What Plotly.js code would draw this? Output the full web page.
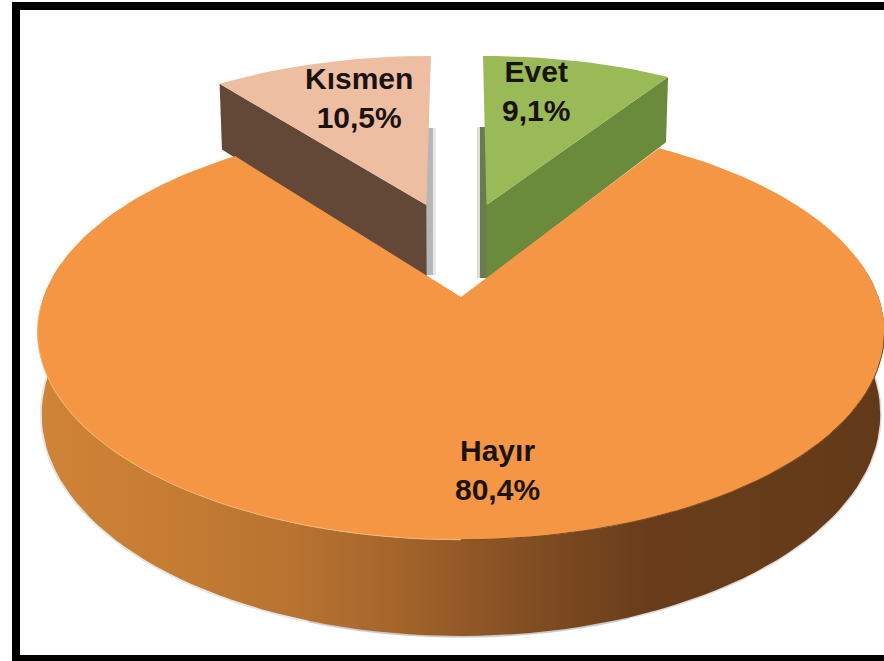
<!DOCTYPE html>
<html><head><meta charset="utf-8">
<script src="https://cdn.plot.ly/plotly-3.0.1.min.js"></script>
<style>html,body{margin:0;padding:0;background:#fff;overflow:hidden}</style>
</head><body><div id="chart" style="width:884px;height:661px"></div>
<script>
const categories = ['Evet', 'Hayır', 'Kısmen'];
const shares = [9.1, 80.4, 10.5];

// Perspective view of the pie disc
const view = {cx: 461, a: 297, b: -152.1, c: 0.168, A: 417.5, depth: 80, shrink: 0.99};
const explode = [[0.066, 0.493], [0, 0], [-0.09, 0.493]];
const topColors = ['#99BA57', '#F49644', '#EDBEA2'];
const sideColors = ['#6A8A3C', null, '#634838'];
const labelPos = [[536, 91], [497.5, 470], [359, 98]];
const total = shares.reduce((s, v) => s + v, 0);

function proj(u, v, low) {
  const den = 1 + view.c * v;
  const s = low ? view.shrink : 1;
  return [view.cx + s * view.A * u / den,
          (view.a + view.b * v) / den + (low ? view.depth / den : 0)];
}
function arc(t0, t1, off, low) {
  const n = Math.max(4, Math.round(Math.abs(t1 - t0) / 2)), pts = [];
  for (let i = 0; i <= n; i++) {
    const t = (t0 + (t1 - t0) * i / n) * Math.PI / 180;
    pts.push(proj(off[0] + Math.sin(t), off[1] + Math.cos(t), low));
  }
  return pts;
}
function poly(pts, color, extra) {
  return Object.assign({x: pts.map(p => p[0]), y: pts.map(p => p[1]), mode: 'lines',
    type: 'scatter', fill: 'toself', fillcolor: color, line: {width: 0, color: color},
    hoverinfo: 'skip', showlegend: false}, extra || {});
}
function stroke(pts, color, width) {
  return {x: pts.map(p => p[0]), y: pts.map(p => p[1]), mode: 'lines', type: 'scatter',
    line: {color: color, width: width}, hoverinfo: 'skip', showlegend: false};
}

let cum = 0;
const spans = shares.map(v => { const s = [cum, cum + v / total * 360]; cum = s[1]; return s; });
const traces = [];

// exploded slices first: they sit behind the big slice
[0, 2].forEach(i => {
  const off = explode[i], [t0, t1] = spans[i];
  const outerAngle = i === 0 ? t1 : t0;
  const apex = proj(off[0], off[1], false), apexLow = proj(off[0], off[1], true);
  const t = outerAngle * Math.PI / 180;
  const rim = proj(off[0] + Math.sin(t), off[1] + Math.cos(t), false);
  const rimLow = proj(off[0] + Math.sin(t), off[1] + Math.cos(t), true);
  traces.push(poly([rim, apex, apexLow, rimLow], sideColors[i]));
  traces.push(poly([apex].concat(arc(t0, t1, off, false)), topColors[i]));
});

// big slice
const big = spans[1], off = explode[1];
const lowArc = arc(80, 280, off, true);
traces.push(stroke(lowArc.slice(0, 60), 'rgba(120,90,60,0.22)', 3));
traces.push(stroke(lowArc.slice(40), 'rgba(130,140,150,0.22)', 4));
traces.push(poly(arc(80, 280, off, false).concat(lowArc.slice().reverse()), '#B0702F', {
  fillgradient: {type: 'horizontal', colorscale: [
    [0, '#CF8436'], [0.15, '#C67C33'], [0.3, '#B87331'], [0.42, '#A5652B'],
    [0.52, '#8F5626'], [0.62, '#7A4820'], [0.72, '#693D1B'], [1, '#633A19']]}
}));
traces.push(poly([proj(off[0], off[1], false)].concat(arc(big[0], big[1], off, false)), topColors[1]));
traces.push(stroke(arc(180, 268, off, false), '#F8B676', 1));
traces.push(stroke(arc(100, 180, off, false), '#7A4A20', 1));

const annotations = categories.map((c, i) => ({
  x: labelPos[i][0], y: labelPos[i][1], xref: 'x', yref: 'y', showarrow: false,
  text: '<b>' + c + '<br>' + String(shares[i]).replace('.', ',') + '%</b>',
  font: {family: 'Liberation Sans, Arial, sans-serif', size: 30, color: '#1A1210'},
  align: 'center', xanchor: 'center', yanchor: 'middle'
}));

const bar = (x0, y0, x1, y1) => ({type: 'rect', xref: 'x', yref: 'y', x0, y0, x1, y1,
  fillcolor: '#000', line: {width: 0}, layer: 'above'});
const soft = (x0, x1, y0, y1, color) => ({type: 'rect', xref: 'x', yref: 'y', x0, y0, x1, y1,
  fillcolor: color, line: {width: 0}, layer: 'below'});

Plotly.newPlot('chart', traces, {
  width: 884, height: 661, margin: {l: 0, r: 0, t: 0, b: 0},
  paper_bgcolor: '#fff', plot_bgcolor: '#fff', showlegend: false,
  xaxis: {range: [0, 884], visible: false, fixedrange: true},
  yaxis: {range: [661, 0], visible: false, fixedrange: true},
  annotations: annotations,
  shapes: [
    soft(425, 433, 128, 275, 'rgba(130,135,140,0.6)'),
    soft(433, 436, 128, 275, 'rgba(170,175,180,0.3)'),
    soft(477, 480, 127, 278, 'rgba(160,170,150,0.4)'),
    soft(480, 488, 127, 278, 'rgba(90,110,60,0.9)'),
    bar(12, 2, 884, 10), bar(12, 2, 20, 661), bar(12, 655, 884, 661)
  ]
}, {staticPlot: true, displayModeBar: false});
</script></body></html>
